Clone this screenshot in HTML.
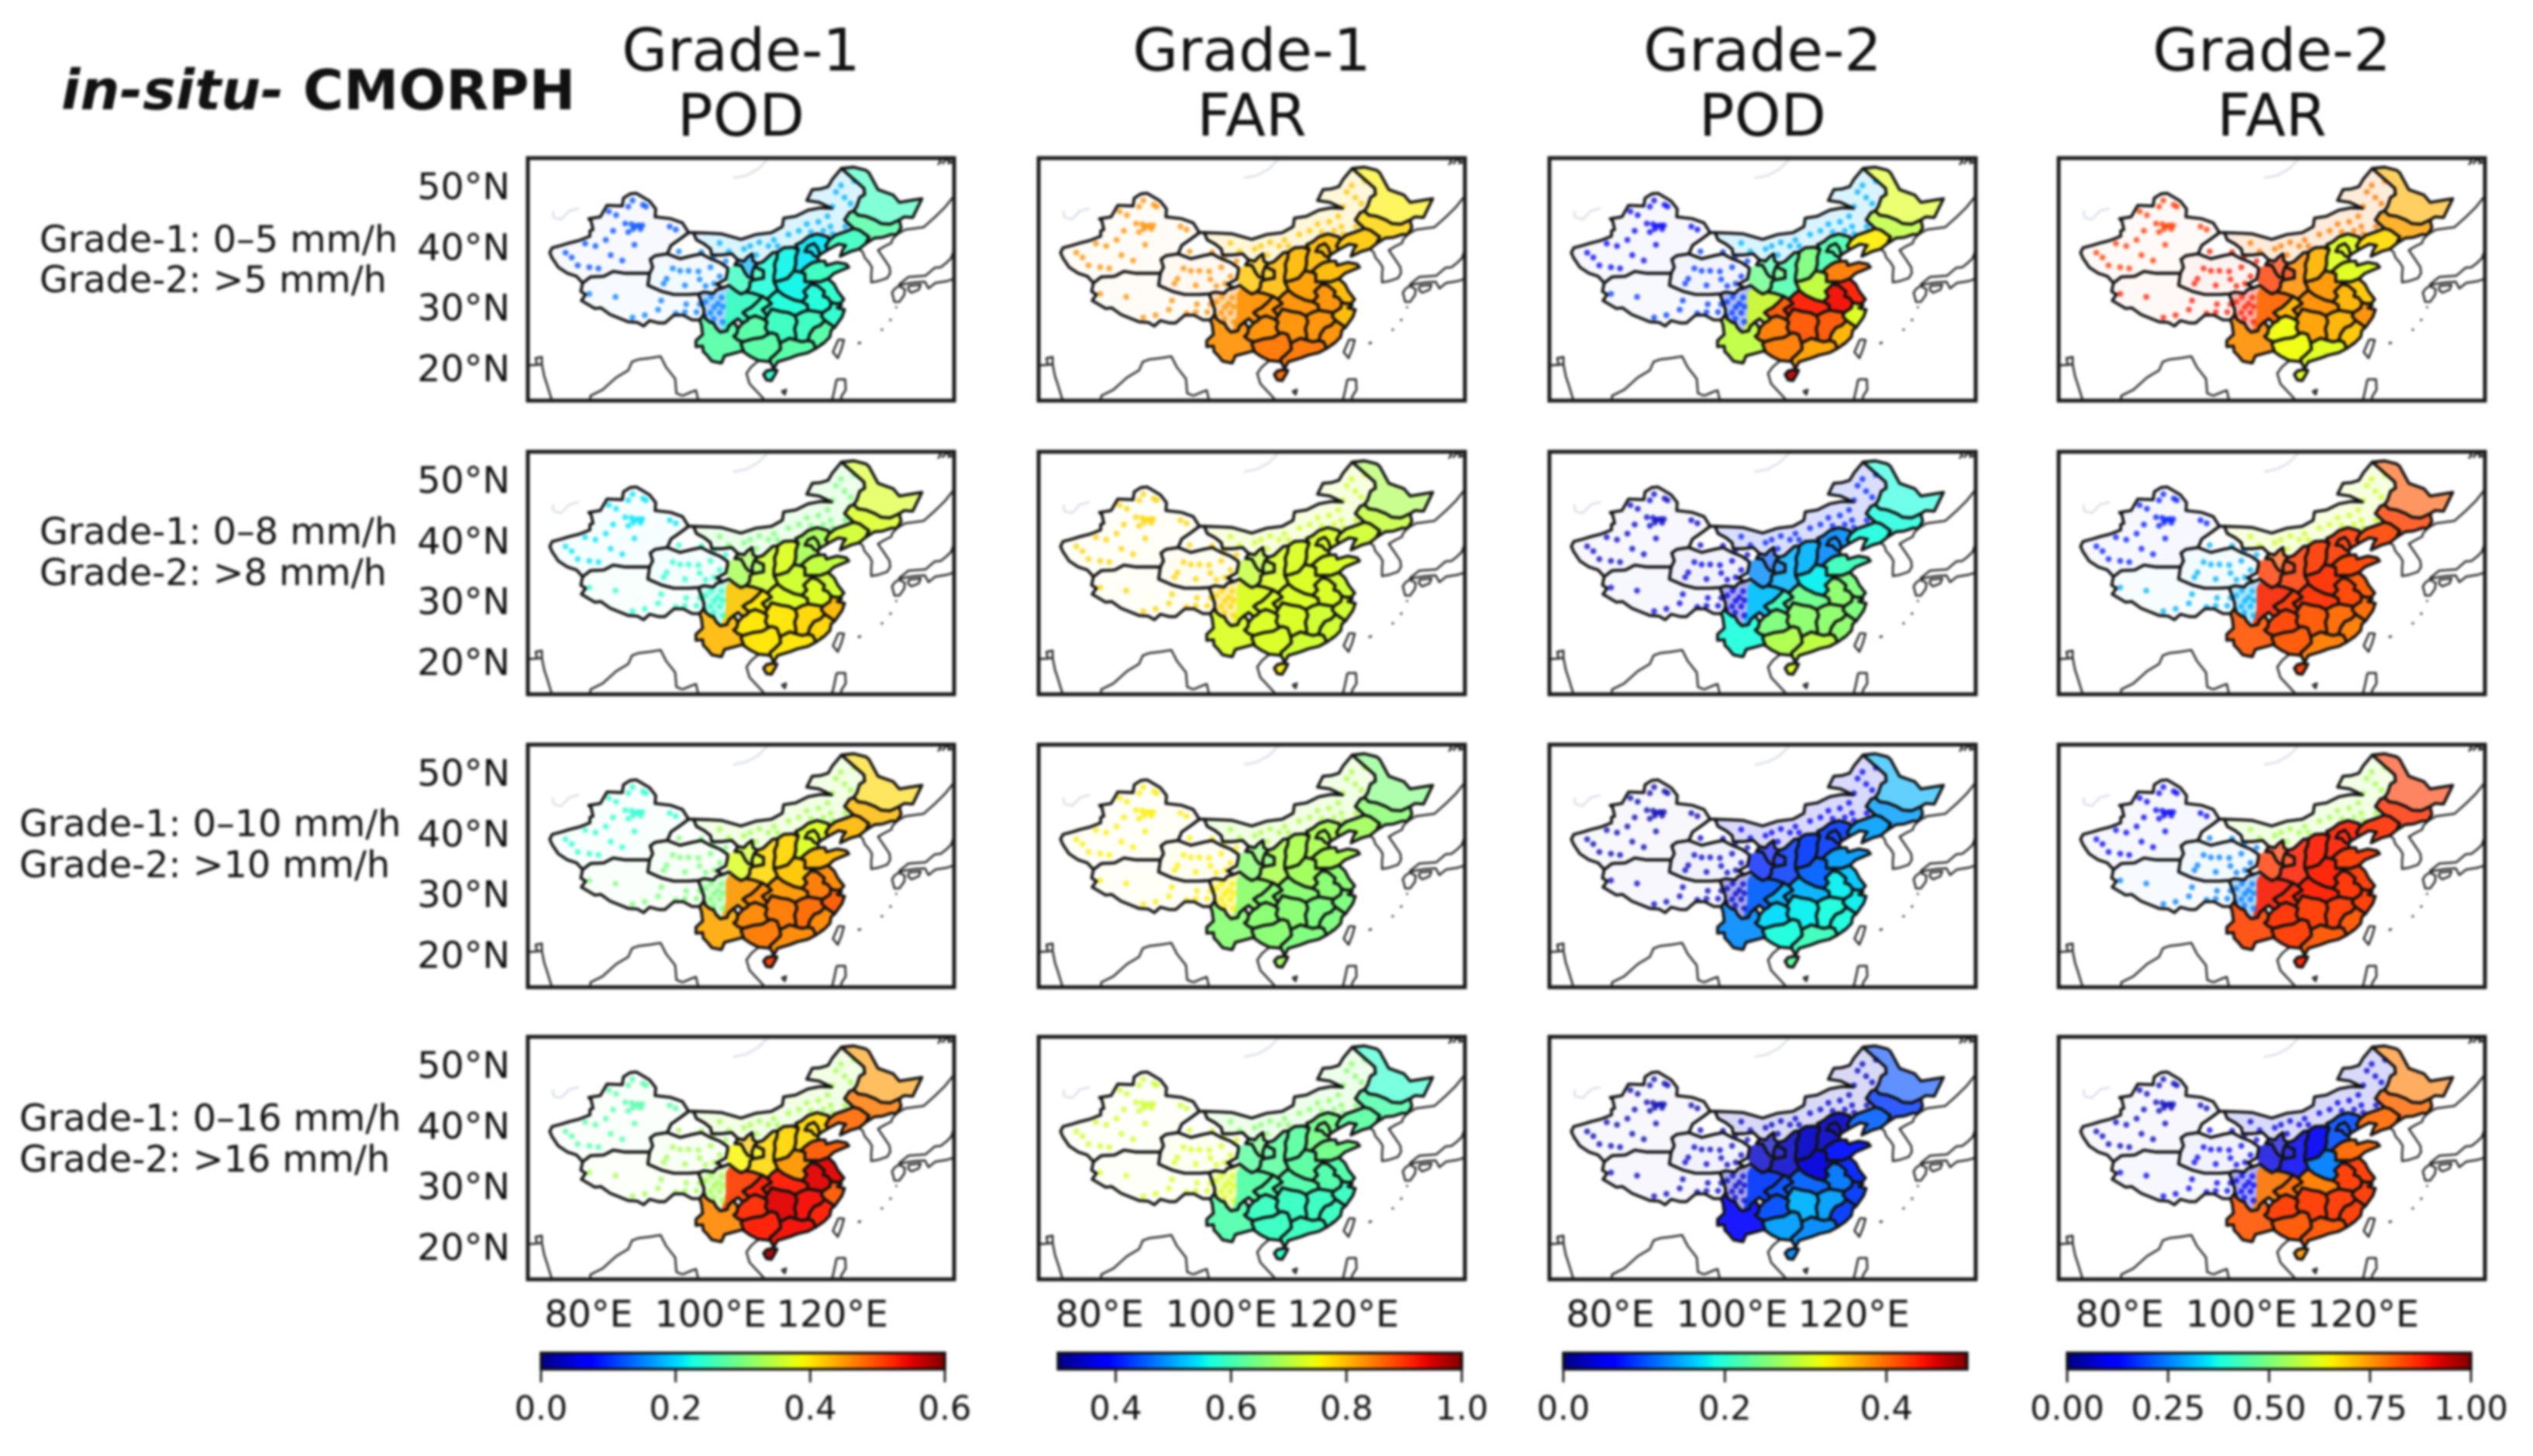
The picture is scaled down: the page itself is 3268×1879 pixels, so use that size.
<!DOCTYPE html>
<html lang="en">
<head>
<meta charset="utf-8">
<title>in-situ vs CMORPH POD and FAR maps</title>
<style>
html,body{margin:0;padding:0;background:#fff;}
svg{display:block;}
text{font-family:"DejaVu Sans","Liberation Sans",sans-serif;fill:#111;}
</style>
</head>
<body>
<svg id="fig" xmlns="http://www.w3.org/2000/svg" width="3268" height="1879" viewBox="0 0 3268 1879">
<defs>
<filter id="soft" filterUnits="userSpaceOnUse" x="0" y="0" width="3268" height="1879" color-interpolation-filters="sRGB"><feGaussianBlur stdDeviation="1.7"/></filter>
<linearGradient id="jetGradient" x1="0" x2="1" y1="0" y2="0"></linearGradient>
</defs>
<rect x="0" y="0" width="3268" height="1879" fill="#fff"/>
<g id="root" filter="url(#soft)">
<text x="79" y="141" font-size="71.5" font-weight="bold"><tspan font-style="italic">in-situ-</tspan> CMORPH</text>
<g text-anchor="middle" font-size="76">
<text x="956" y="91">Grade-1</text>
<text x="956" y="175">POD</text>
<text x="1615" y="91">Grade-1</text>
<text x="1615" y="175">FAR</text>
<text x="2274" y="91">Grade-2</text>
<text x="2274" y="175">POD</text>
<text x="2931" y="91">Grade-2</text>
<text x="2931" y="175">FAR</text>
</g>
<g font-size="47.6">
<text x="51" y="325">Grade-1: 0–5 mm/h</text>
<text x="51" y="377">Grade-2: &gt;5 mm/h</text>
<text x="51" y="702">Grade-1: 0–8 mm/h</text>
<text x="51" y="755">Grade-2: &gt;8 mm/h</text>
<text x="25" y="1079">Grade-1: 0–10 mm/h</text>
<text x="25" y="1132">Grade-2: &gt;10 mm/h</text>
<text x="25" y="1459">Grade-1: 0–16 mm/h</text>
<text x="25" y="1512">Grade-2: &gt;16 mm/h</text>
</g>
<g id="panels"></g>
<g id="colorbars"></g>
</g>
</svg>
<script>
// ---- axis extents and ticks ----
const lonExtent = [70, 140];
const latExtent = [15, 55];
const lonTicks = [80, 100, 120];
const latTicks = [50, 40, 30, 20];

// ---- colour scale per column ----
const columnMin = [0.0, 0.3, 0.0, 0.0];
const columnMax = [0.6, 1.0, 0.5, 1.0];
const cbarTicks1 = [0.0, 0.2, 0.4, 0.6];
const cbarTicks2 = [0.4, 0.6, 0.8, 1.0];
const cbarTicks3 = [0.0, 0.2, 0.4];
const cbarTicks4 = [0.00, 0.25, 0.50, 0.75, 1.00];
const cbarDigits = [1, 1, 1, 2];

// ---- metric values per region (see regionNames for the order) ----
const regionNames = ['heilongjiang','jilin','liaoning','hebei','shanxi','shaanxi','henan','shandong','jiangsu','anhui','zhejiang','fujian','jiangxi','hubei','hunan','guangdong','guangxi','hainan','guizhou','yunnan','chongqing','sichuan-east','gansu-east','ningxia','inner-mongolia','xinjiang','qinghai-tibet'];
const pod1_5  = [.25,.27,.25,.21,.22,.23,.22,.25,.24,.23,.24,.27,.25,.23,.25,.27,.27,.24,.27,.27,.25,.25,.25,.18,.18,.12,.15];
const far1_5  = [.76,.78,.79,.80,.80,.80,.82,.80,.80,.83,.80,.83,.83,.83,.83,.85,.85,.86,.83,.83,.83,.83,.79,.79,.79,.83,.83];
const pod2_5  = [.31,.29,.33,.22,.25,.22,.29,.39,.44,.45,.31,.36,.41,.44,.41,.37,.39,.47,.39,.29,.41,.30,.24,.22,.15,.05,.09];
const far2_5  = [.72,.74,.68,.62,.72,.76,.75,.62,.70,.72,.76,.70,.72,.76,.74,.62,.64,.62,.64,.76,.72,.80,.85,.85,.78,.85,.88];
const pod1_8  = [.37,.37,.36,.33,.37,.36,.36,.35,.36,.37,.43,.41,.41,.37,.40,.40,.40,.42,.40,.43,.40,.42,.33,.33,.30,.21,.24];
const far1_8  = [.69,.71,.72,.73,.73,.73,.73,.73,.72,.73,.72,.72,.72,.73,.73,.72,.73,.76,.73,.73,.73,.73,.71,.71,.72,.78,.78];
const pod2_8  = [.19,.19,.19,.13,.15,.15,.18,.21,.25,.26,.25,.26,.26,.24,.26,.29,.28,.31,.25,.19,.21,.16,.13,.11,.08,.03,.04];
const far2_8  = [.82,.84,.84,.85,.85,.85,.86,.84,.82,.84,.80,.78,.80,.86,.82,.78,.82,.85,.84,.82,.85,.87,.85,.82,.60,.15,.30];
const pod1_10 = [.41,.43,.43,.37,.41,.41,.42,.43,.46,.47,.49,.46,.48,.45,.47,.46,.47,.51,.46,.44,.46,.45,.37,.36,.33,.24,.30];
const far1_10 = [.65,.66,.68,.69,.69,.69,.68,.69,.66,.66,.65,.65,.65,.66,.66,.65,.66,.68,.66,.66,.66,.66,.66,.66,.69,.76,.76];
const pod2_10 = [.15,.14,.14,.09,.09,.09,.11,.14,.16,.18,.18,.19,.19,.15,.18,.21,.19,.23,.17,.13,.15,.11,.08,.07,.05,.02,.03];
const far2_10 = [.85,.86,.86,.88,.88,.88,.88,.85,.85,.86,.85,.82,.85,.88,.85,.82,.85,.88,.86,.84,.87,.88,.85,.85,.55,.10,.25];
const pod1_16 = [.45,.47,.48,.41,.41,.41,.45,.49,.55,.55,.49,.53,.54,.53,.55,.54,.53,.58,.52,.46,.53,.51,.39,.42,.33,.27,.33];
const far1_16 = [.58,.61,.62,.64,.62,.62,.62,.64,.61,.61,.59,.59,.59,.61,.59,.59,.59,.58,.59,.61,.61,.61,.62,.64,.66,.72,.73];
const pod2_16 = [.10,.09,.11,.03,.03,.03,.04,.07,.08,.12,.09,.09,.14,.11,.15,.13,.14,.13,.10,.06,.10,.09,.03,.03,.03,.02,.03];
const far2_16 = [.78,.80,.80,.20,.10,.10,.25,.80,.85,.85,.85,.85,.85,.78,.85,.82,.82,.75,.85,.82,.80,.78,.08,.08,.08,.05,.10];
const panelSeries = [
  [pod1_5,far1_5,pod2_5,far2_5],
  [pod1_8,far1_8,pod2_8,far2_8],
  [pod1_10,far1_10,pod2_10,far2_10],
  [pod1_16,far1_16,pod2_16,far2_16]
];

// ---- gauge locations (lon, lat) in the sparse western and northern regions ----
const stationsNM = [[115.8,44.1],[117.7,44.5],[119.2,45.4],[120.6,49.4],[121.4,50.5],[123.6,51.2],[119.7,43.7],[122.1,43.7],[112.8,42.4],[110.4,41.5],[108,41.1],[107.5,39],[111,40.5],[114.5,43],[116.5,42.8],[120,42.5],[118.5,43],[123,47.5],[122,48.5],[120,47],[105.5,40],[101.5,41],[103,39.6],[106.5,40.5],[109.5,40.5]];
const stationsXJ = [[87.2,48],[88.9,47.3],[89.4,47],[86.5,47],[83.3,46.2],[84.5,45.6],[86,44.2],[87,44.1],[87.6,43.8],[88.2,43.9],[88.8,43.9],[87.3,43.3],[88.5,43.3],[86.5,42.8],[93.3,43.7],[94.3,43.2],[84,43],[82.8,41.5],[79.4,40.9],[81.1,40.5],[76.2,39.4],[77.2,38.6],[78.2,37.3],[80.1,37],[81.6,36.8],[83.6,39],[85.5,38.1],[87.5,40.7]];
const stationsQZ = [[94.8,39.6],[93.8,36.8],[95,36.4],[96.4,36.4],[98,36.3],[92.3,34.3],[92.8,35.1],[95.8,34],[98.2,35],[80.1,32.6],[84.4,32.1],[91.9,31.5],[91.4,30],[89.2,29.1],[87.2,28.7],[94.3,29.4],[96,30.9],[98.2,30.9],[95.8,29.6],[97.7,29.6],[99.2,31.3],[100.6,30.4],[99.2,33.9],[100.6,34.3],[100.1,32.1],[101.2,31],[100.5,28.5],[101.5,35.5],[100,37],[98.5,39.5],[100.5,38.7],[102.5,38],[101.5,29.5],[102,30.5],[101.8,32],[100,29.5],[99,29],[102,28]];
const stationGroups = [['inner-mongolia',24,stationsNM],['xinjiang',25,stationsXJ],['qinghai-tibet',26,stationsQZ]];

// ---- province outlines in lon/lat ----
const shapes = {
xinjiang:[[73.6,39.4],[74,40.2],[75.5,40.6],[76.8,41],[78.4,41.4],[80.2,42.1],[80.2,43],[80.7,43.2],[80.4,44.6],[80,45],[81.9,45.3],[83,47.2],[85.5,47.1],[85.7,48.4],[86.8,49.1],[87.8,49.2],[89,48.5],[90,47.9],[91,46.6],[90.9,45.3],[93.5,45],[95.4,44.3],[96.4,42.7],[95.2,41.8],[93.5,40.6],[92.9,39.2],[90.9,38.9],[90.1,38.3],[90.5,37],[90,36],[86,36],[84,36.3],[82.5,35.5],[80.3,35.4],[79,34.4],[78,35.5],[76.5,36],[75,37],[74.8,37.3],[74,38.5]],
tibet:[[79,34.4],[78.7,33],[79.5,32.5],[78.8,31.5],[81,30.2],[82,30.3],[83.5,29.2],[85,28.6],[86.5,28],[88,27.9],[89,27.3],[90,28.2],[91.5,27.8],[92.5,27.8],[94,29.1],[95.5,29.1],[97,28.3],[98.2,28.3],[98.9,29.2],[98.9,30],[98.4,31.5],[98,32.6],[96.2,32.5],[94,32.5],[92,33],[89.7,34],[90,36],[86,36],[84,36.3],[82.5,35.5],[80.3,35.4]],
qinghai:[[90,36],[90.5,37],[90.1,38.3],[90.9,38.9],[92.9,39.2],[95,38.4],[97,38.9],[98.5,39.2],[100,38.4],[101.5,37.8],[102.8,36.9],[102.8,36.3],[102.5,35],[101,34.2],[102,33.6],[101,33.3],[100.5,32.7],[98.9,32.9],[98,32.6],[96.2,32.5],[94,32.5],[92,33],[89.7,34]],
gansu:[[95.2,41.8],[96.4,42.7],[97.2,42.7],[97.7,41.5],[99,40.8],[100,40],[100.2,39],[101.7,39],[103.5,39.2],[104.5,38.2],[104,37.4],[105,37.3],[105.3,36.8],[105.7,36],[106.2,35.4],[106.9,35.2],[106.8,36],[107.2,37.1],[108.7,36.4],[108.7,35.2],[107,34.9],[106.5,34.6],[106.4,33.6],[105.8,32.9],[105,32.6],[104.3,33],[103,34],[102,33.6],[101,34.2],[102.5,35],[102.8,36.3],[102.8,36.9],[101.5,37.8],[100,38.4],[98.5,39.2],[97,38.9],[95,38.4],[92.9,39.2],[93.5,40.6]],
mongolia:[[97.2,42.7],[100,42.6],[101.8,42.5],[105,41.6],[107.5,42.4],[110,42.7],[111.8,43.7],[112,45.1],[114,45.4],[116,46.4],[118,46.8],[119.9,46.7],[117.8,47.7],[115.8,48],[116.7,49.8],[118,49.9],[119.3,50.3],[120,51.5],[121.5,53.3],[123.5,51.5],[125.2,50],[125.3,49],[124.5,48.5],[124,47],[123.5,46.3],[122.8,46],[122,44.8],[123.5,43.4],[122.5,43],[120.5,42.3],[119.5,41.5],[119.3,42],[117.5,42.5],[116,42],[115,41.2],[114,40.7],[114.4,39.9],[113.5,40.3],[112,40.2],[111,39.5],[110.2,39.4],[108.6,37.9],[107.7,37.6],[107,38],[106.8,39.2],[106,38.6],[105.5,38],[104.5,38.2],[103.5,39.2],[101.7,39],[100.2,39],[100,40],[99,40.8],[97.7,41.5]],
heilongjiang:[[121.5,53.3],[123.5,53.5],[125.5,53],[126,52.6],[127.5,49.8],[130,48.9],[131,47.7],[134.7,48.3],[133.2,45.2],[131.8,45.3],[131,44.8],[129.5,44.1],[128,44.2],[127,44.8],[125.5,45.4],[124.2,45.6],[123.5,46.3],[124,47],[124.5,48.5],[125.3,49],[125.2,50],[123.5,51.5]],
jilin:[[123.5,46.3],[124.2,45.6],[125.5,45.4],[127,44.8],[128,44.2],[129.5,44.1],[131,44.8],[131.3,43.5],[130.6,42.4],[129.7,42.4],[128.2,41.9],[126.9,41.8],[125.5,40.9],[126,42],[124.5,43.1],[123.5,43.4],[122,44.8],[122.8,46]],
liaoning:[[119.3,39.9],[118.9,40.5],[119.5,41.5],[120.5,42.3],[122.5,43],[123.5,43.4],[124.5,43.1],[126,42],[125.5,40.9],[124.4,40],[123,39.6],[121.3,38.8],[121.7,39.9],[122.2,40.6],[121,40.8]],
hebei:[[119.3,39.9],[118,39.1],[117.6,38.6],[117.8,38],[116.9,37.8],[116.3,37.5],[115.5,36.9],[114.8,36.2],[113.7,36.4],[114,37.5],[114,38.7],[114.4,39.9],[114,40.7],[115,41.2],[116,42],[117.5,42.5],[119.3,42],[119.5,41.5],[118.9,40.5]],
beijing:[[115.5,39.6],[116,40.5],[117,40.9],[117.6,40.2],[117.9,39.2],[117.6,38.6],[117,38.9],[116.5,39.5]],
shanxi:[[110.4,34.6],[111.5,34.8],[112.7,35.2],[113.7,36.4],[114,37.5],[114,38.7],[114.4,39.9],[113.5,40.3],[112,40.2],[111,39.5],[110.9,38.5],[110.5,37.5],[110.6,36.5],[110.4,35.5]],
shaanxi:[[110.4,34.6],[110.4,35.5],[110.6,36.5],[110.5,37.5],[110.9,38.5],[111,39.5],[110.2,39.4],[108.6,37.9],[107.7,37.6],[107.2,37.1],[108.7,36.4],[108.7,35.2],[107,34.9],[106.5,34.6],[106.4,33.6],[105.8,32.9],[107,32.7],[108.5,32.2],[109.3,31.7],[110.2,32.6],[111,33.2],[110.8,33.8]],
ningxia:[[107.2,37.1],[107.7,37.6],[107,38],[106.8,39.2],[106,38.6],[105.5,38],[104.5,38.2],[104,37.4],[105,37.3],[105.3,36.8],[105.7,36],[106.2,35.4],[106.9,35.2],[106.8,36]],
henan:[[110.4,34.6],[110.8,33.8],[111,33.2],[112,32.4],[113.7,31.6],[115,31.3],[115.8,32.2],[115.3,33],[116.5,34.2],[116.5,34.6],[115.5,34.6],[115.5,35.9],[114.8,36.2],[113.7,36.4],[112.7,35.2],[111.5,34.8]],
shandong:[[115.5,34.6],[116.5,34.6],[118,34.6],[119.3,35.1],[120.3,36],[122.7,37],[122.3,37.5],[120.8,37.8],[119,37.3],[118.8,38],[117.8,38],[116.9,37.8],[116.3,37.5],[115.5,36.9],[114.8,36.2],[115.5,35.9]],
jiangsu:[[116.5,34.6],[118,34.6],[119.3,35.1],[120.3,34.2],[120.9,33],[121.9,31.7],[121.3,31],[120.5,31],[119.8,31.2],[119.2,32],[118.5,32.2],[118.7,33],[117.5,34],[116.5,34.2]],
anhui:[[115,31.3],[115.8,32.2],[115.3,33],[116.5,34.2],[117.5,34],[118.7,33],[118.5,32.2],[119.2,32],[119.8,31.2],[119.6,30.3],[118.4,29.5],[117.3,29.7],[116,29.9],[115.9,30.8]],
zhejiang:[[118.4,29.5],[119.6,30.3],[119.8,31.2],[120.5,31],[121.3,31],[121.5,30.7],[120.8,30.3],[122,30],[121.6,28.8],[121.1,28.1],[120.4,27.1],[119.5,27.7],[118.8,28.2],[118.2,28.9]],
fujian:[[116.8,24.7],[117.3,23.6],[118.6,24.5],[119.6,25.5],[119.8,26.6],[120.4,27.1],[119.5,27.7],[118.8,28.2],[118,27.4],[117,27],[116.3,26],[116,24.9]],
jiangxi:[[114,25],[115,24.7],[116,24.9],[116.3,26],[117,27],[118,27.4],[118.8,28.2],[118.2,28.9],[118.4,29.5],[117.3,29.7],[116,29.9],[115,29.6],[113.9,29],[114.2,28],[113.8,26.9],[114,25.8]],
guangdong:[[109.8,21.4],[110.4,20.3],[111,21.4],[113,22],[114.3,22.5],[116,22.9],[117.3,23.6],[116.8,24.7],[116,24.9],[115,24.7],[114,25],[113,25.3],[112,24.8],[111.4,24.5],[111.5,23.5],[110.5,22.5],[109.8,21.9]],
guangxi:[[105.5,23],[106.5,22.3],[107.9,21.6],[109,21.5],[109.8,21.4],[109.8,21.9],[110.5,22.5],[111.5,23.5],[111.4,24.5],[110.9,25.9],[110,26.2],[109.5,26],[108.5,25.4],[107,25.2],[105.3,24.7],[105,24.3]],
hunan:[[109.5,26],[110,26.2],[110.9,25.9],[111.4,24.5],[112,24.8],[113,25.3],[114,25],[114,25.8],[113.8,26.9],[114.2,28],[113.9,29],[112.8,29.5],[111.5,29.7],[110,30.1],[109.3,29],[108.9,28.3],[109.3,28],[109,27]],
hubei:[[108.5,30],[109.3,29],[110,30.1],[111.5,29.7],[112.8,29.5],[113.9,29],[115,29.6],[116,29.9],[115.9,30.8],[115,31.3],[113.7,31.6],[112,32.4],[111,33.2],[110.2,32.6],[109.3,31.7],[110,31]],
chongqing:[[105.3,29.5],[106.3,28.6],[107.3,29],[108.4,28.6],[108.9,28.3],[109.3,29],[108.5,30],[110,31],[109.3,31.7],[108.5,32.2],[107.7,31.3],[106.6,30.3],[106,30]],
sichuan:[[98,32.6],[98.4,31.5],[98.9,30],[98.9,29.2],[99.2,28.5],[100,27.9],[100.5,27.8],[100.9,27],[101.6,26.3],[102.7,26.5],[103,27.3],[103.8,28],[104.5,28.5],[105.3,27.8],[106,28.2],[106.3,28.6],[105.3,29.5],[106,30],[106.6,30.3],[107.7,31.3],[108.5,32.2],[107,32.7],[105.8,32.9],[105,32.6],[104.3,33],[103,34],[102,33.6],[101,33.3],[100.5,32.7],[98.9,32.9]],
guizhou:[[103.8,25.6],[104.5,25],[105.3,24.7],[107,25.2],[108.5,25.4],[109.5,26],[109,27],[109.3,28],[108.9,28.3],[108.4,28.6],[107.3,29],[106.3,28.6],[106,28.2],[105.3,27.8],[104.5,26.9],[104.3,26]],
yunnan:[[97.6,23.9],[98.7,24],[98.8,23.1],[99.4,22.5],[100.2,21.5],[101.2,21.3],[101.8,21.2],[102.3,22.4],[103.5,22.7],[105.3,23.2],[105.5,23],[105,24.3],[105.3,24.7],[104.5,25],[103.8,25.6],[104.3,26],[104.5,26.9],[103.8,28],[103,27.3],[102.7,26.5],[101.6,26.3],[100.9,27],[100.5,27.8],[100,27.9],[99.2,28.5],[98.9,29.2],[98.2,28.3],[98.5,27.5],[98.7,25.9],[97.6,24.9]],
hainan:[[108.7,19.3],[109.2,18.4],[110,18.3],[110.7,19.5],[110.9,20],[110.1,20.1],[109.2,19.9]],
sichuanEast:[[102.5,32.5],[102.5,29],[101.8,26.4],[102.7,26.5],[103,27.3],[103.8,28],[104.5,28.5],[105.3,27.8],[106,28.2],[106.3,28.6],[105.3,29.5],[106,30],[106.6,30.3],[107.7,31.3],[108.5,32.2],[107,32.7],[105.8,32.9],[105,32.6],[104.3,33],[103,33.5]],
gansuEast:[[103,36.9],[104,37.4],[105,37.3],[105.3,36.8],[105.7,36],[106.2,35.4],[106.9,35.2],[106.8,36],[107.2,37.1],[108.7,36.4],[108.7,35.2],[107,34.9],[106.5,34.6],[106.4,33.6],[105.8,32.9],[105,32.6],[104.3,33],[103,34],[102.5,35],[102.8,36.3]]
};
const borderNames = ['xinjiang','tibet','qinghai','gansu','mongolia','heilongjiang','jilin','liaoning','hebei','beijing','shanxi','shaanxi','ningxia','henan','shandong','jiangsu','anhui','zhejiang','fujian','jiangxi','guangdong','guangxi','hunan','hubei','chongqing','sichuan','guizhou','yunnan','hainan'];
// shape, region index into the value arrays, station coverage (fill opacity)
const fillShapes = [
['sichuan',26,.32],['heilongjiang',0,.62],['jilin',1,.82],['liaoning',2,.9],['hebei',3,.9],['shanxi',4,.92],['shaanxi',5,.85],['henan',6,.95],['shandong',7,.95],['jiangsu',8,.95],['anhui',9,.95],['zhejiang',10,.95],['fujian',11,.95],['jiangxi',12,.95],['hubei',13,.95],['hunan',14,.95],['guangdong',15,.95],['guangxi',16,.95],['hainan',17,.95],['guizhou',18,.95],['yunnan',19,.9],['chongqing',20,.95],['sichuanEast',21,.9],['gansuEast',22,.8],['ningxia',23,.7],['mongolia',24,.15],['xinjiang',25,.03],['tibet',26,.03],['qinghai',26,.05]
];
// thin coast and country lines
const coastLines = [
[[124.4,40],[125,39.5],[125.3,38.6],[126,37.8],[126.5,37],[126.4,35.8],[126.4,34.5],[127.5,34.7],[129,35.2],[129.5,36],[129.4,37],[128.4,38.5],[127.5,39.8],[128.5,40.4],[129.7,41],[129.8,41.5],[130.6,42.4]],
[[130.6,42.4],[132,43.2],[135,43.6],[137,45.4],[138.5,46.9],[140,48.8]],
[[130.9,33.9],[130.2,33.4],[129.8,32.8],[130.2,31.3],[131,31.3],[131.8,32.4],[131.9,33.4],[130.9,33.9]],
[[130.9,34],[132.2,34.3],[133.5,34.5],[135.2,34.6],[135.8,33.5],[136.9,34.4],[138.8,34.7],[140,35.1]],
[[130.9,34.1],[132.5,35.4],[135.3,35.6],[136.8,36.9],[137.8,37],[138.8,37.8],[139.5,38.5],[140,40]],
[[132.5,33.9],[134.5,34.1],[134.2,33.3],[133,32.8],[132.5,33.2],[132.5,33.9]],
[[121,25.1],[121.9,25],[121.5,23.5],[120.9,22],[120.1,23],[120.8,24.6],[121,25.1]],
[[70,20.8],[71.5,20.9],[72.3,21],[72.7,19],[73.2,17.5],[73.8,15.5],[74,15]],
[[71.5,20.9],[71.3,22],[72.3,22.2],[72.3,21]],
[[80.2,15],[80.3,15.8],[82.3,16.8],[84.5,18.8],[86.5,20],[87.1,21.4],[88.2,21.8],[90,22],[91.8,22.3],[92.7,20.5],[94.2,18.6],[94.4,16.2],[95.4,15.8]],
[[95.4,15.8],[96.8,16.4],[97.6,16.7],[98,15]],
[[107.9,21.6],[106.7,20.6],[105.9,19.5],[106.4,17.8],[107.6,16.5],[108.8,15.2]],
[[107.9,21.6],[109,21.5]],
[[120.7,18.5],[122.1,18.5],[122.2,16.8],[121.5,15.7],[121.4,15]],
[[120.7,18.5],[120.3,16.5],[120,15.3]],
[[119.5,15],[120,15.3]],
[[110,20],[110.4,20.3]],
[[118.1,24.4],[118.3,24.5]],
[[128,26.6],[128.3,26.8]],
[[124.2,24.4],[124.7,24.6]],
[[129.4,28.2],[129.7,28.4]],
[[130.4,30.3],[130.6,30.5]],
[[138.1,54],[138.6,54.8],[139.6,54.3],[138.9,54.1]],
[[137.4,55],[137.8,54.4],[137.3,53.9]],
[[111.6,16.5],[112.4,16.8],[112.2,16],[111.8,16.4]]
];
const faintLines = [
[[103.7,51.7],[105.8,52.1],[107.8,53.2],[109.6,55]],
[[74.2,45.2],[75.5,44.9],[76.8,46.3],[78.4,46.7]],
[[74.2,45.2],[74.1,46.3]]
];

const panelX = [681, 1340, 1999, 2656];
const panelY = [204, 583, 961, 1338];
const panelW = 550;
const panelH = 313;
const barX = [698, 1365, 2017, 2667];
const barW = 521;
const barTop = 1746;
const barH = 21;

const NS = 'http://www.w3.org/2000/svg';
function make(tag, parent, attrs) {
  const el = document.createElementNS(NS, tag);
  for (const k in attrs) el.setAttribute(k, attrs[k]);
  parent.appendChild(el);
  return el;
}
function interp(t, pts) {
  if (t <= pts[0][0]) return pts[0][1];
  for (let i = 1; i < pts.length; i++) {
    if (t <= pts[i][0]) {
      const a = pts[i - 1], b = pts[i];
      return a[1] + (b[1] - a[1]) * (t - a[0]) / (b[0] - a[0]);
    }
  }
  return pts[pts.length - 1][1];
}
const jetR = [[0,0],[.35,0],[.66,1],[.89,1],[1,.5]];
const jetG = [[0,0],[.125,0],[.375,1],[.64,1],[.91,0],[1,0]];
const jetB = [[0,.5],[.11,1],[.34,1],[.65,0],[1,0]];
function jet(t) {
  t = Math.max(0, Math.min(1, t));
  const c = v => Math.round(v * 255);
  return 'rgb(' + c(interp(t, jetR)) + ',' + c(interp(t, jetG)) + ',' + c(interp(t, jetB)) + ')';
}
function xScale(col, lon) {
  return panelX[col] + (lon - lonExtent[0]) / (lonExtent[1] - lonExtent[0]) * panelW;
}
function yScale(row, lat) {
  return panelY[row] + (latExtent[1] - lat) / (latExtent[1] - latExtent[0]) * panelH;
}
function colorFor(col, value) {
  return jet((value - columnMin[col]) / (columnMax[col] - columnMin[col]));
}
function pathFor(row, col, pts, closed) {
  let d = '';
  pts.forEach((p, i) => {
    d += (i ? 'L' : 'M') + xScale(col, p[0]).toFixed(1) + ' ' + yScale(row, p[1]).toFixed(1);
  });
  return d + (closed ? 'Z' : '');
}

const defs = document.querySelector('defs');
const gradient = document.getElementById('jetGradient');
for (let i = 0; i <= 40; i++) {
  make('stop', gradient, { offset: (i / 40), 'stop-color': jet(i / 40) });
}

const panels = document.getElementById('panels');
for (let r = 0; r < 4; r++) {
  for (let c = 0; c < 4; c++) {
    const values = panelSeries[r][c];
    const clipId = 'clip-' + r + '-' + c;
    const clip = make('clipPath', defs, { id: clipId });
    make('rect', clip, { x: panelX[c], y: panelY[r], width: panelW, height: panelH });

    const panel = make('g', panels, {});
    
    
    const inner = make('g', panel, { 'clip-path': 'url(#' + clipId + ')' });

    faintLines.forEach(line => {
      const p = make('path', inner, { d: pathFor(r, c, line, false), fill: 'none', stroke: '#dfe2ec', 'stroke-width': 3 });
      
      
    });
    fillShapes.forEach(f => {
      const p = make('path', inner, { d: pathFor(r, c, shapes[f[0]], true), fill: colorFor(c, values[f[1]]), 'fill-opacity': f[2] });
      
      
    });
    stationGroups.forEach(g => {
      g[2].forEach(s => {
        const dot = make('circle', inner, { cx: xScale(c, s[0]).toFixed(1), cy: yScale(r, s[1]).toFixed(1), r: 3.9, fill: colorFor(c, values[g[1]]), 'fill-opacity': .75 });
        
        
      });
    });
    coastLines.forEach(line => {
      const p = make('path', inner, { d: pathFor(r, c, line, false), fill: 'none', stroke: '#222', 'stroke-width': 2.6, 'stroke-linejoin': 'round' });
      
      
    });
    borderNames.forEach(name => {
      const p = make('path', inner, { d: pathFor(r, c, shapes[name], true), fill: 'none', stroke: '#111', 'stroke-width': 3.8, 'stroke-linejoin': 'round' });
      
      
    });
    const frame = make('rect', panel, { x: panelX[c], y: panelY[r], width: panelW, height: panelH, fill: 'none', stroke: '#1a1a1a', 'stroke-width': 5 });
    
    

    if (c === 0) {
      latTicks.forEach(lat => {
        const t = make('text', panel, { x: panelX[0] - 23, y: yScale(r, lat) + 14, 'text-anchor': 'end', 'font-size': 47.5 });
        
        
        t.textContent = lat + '°N';
      });
    }
    if (r === 3) {
      lonTicks.forEach(lon => {
        const t = make('text', panel, { x: xScale(c, lon), y: 1712, 'text-anchor': 'middle', 'font-size': 47.5 });
        
        
        t.textContent = lon + '°E';
      });
    }
  }
}

const cbarTicks = [cbarTicks1, cbarTicks2, cbarTicks3, cbarTicks4];
const bars = document.getElementById('colorbars');
for (let c = 0; c < 4; c++) {
  const g = make('g', bars, {});
  
  
  const rect = make('rect', g, { x: barX[c], y: barTop, width: barW, height: barH, fill: 'url(#jetGradient)', stroke: '#111', 'stroke-width': 3.5 });
  
  
  cbarTicks[c].forEach(v => {
    const x = barX[c] + (v - columnMin[c]) / (columnMax[c] - columnMin[c]) * barW;
    const tick = make('line', g, { x1: x, x2: x, y1: barTop + barH, y2: barTop + barH + 17, stroke: '#222', 'stroke-width': 3 });
    
    
    const label = make('text', g, { x: x, y: 1832, 'text-anchor': 'middle', 'font-size': 43 });
    
    
    label.textContent = v.toFixed(cbarDigits[c]);
  });
}
</script>
</body>
</html>
